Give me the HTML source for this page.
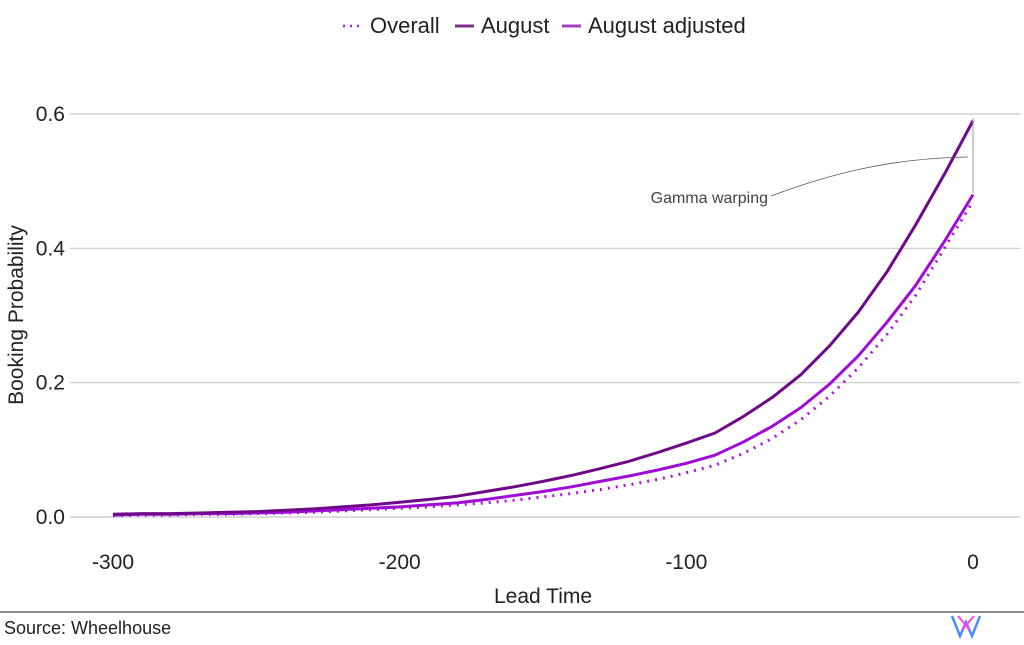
<!DOCTYPE html>
<html><head><meta charset="utf-8"><style>
body{margin:0;background:#fff;font-family:"Liberation Sans",sans-serif}
</style></head><body>
<svg width="1024" height="640" viewBox="0 0 1024 640">
<g id="grid"></g>
<g id="lines"></g>
<g font-size="22" fill="#222">
 <line x1="343" y1="26" x2="362" y2="26" stroke="#a020f0" stroke-width="2.5" stroke-dasharray="2,5"/>
 <text x="370" y="33">Overall</text>
 <line x1="455" y1="26" x2="474" y2="26" stroke="#7a2f86" stroke-width="3"/>
 <text x="481" y="33">August</text>
 <line x1="562" y1="26" x2="581" y2="26" stroke="#a040c0" stroke-width="3"/>
 <text x="588" y="33">August adjusted</text>
</g>
<text x="543" y="603" font-size="21" text-anchor="middle" fill="#222">Lead Time</text>
<text transform="translate(23,315) rotate(-90)" font-size="21" text-anchor="middle" fill="#222">Booking Probability</text>
<path d="M973 118 V193" stroke="#999" stroke-width="1" fill="none"/>
<path d="M771 196 C840 170 900 158 968 157" stroke="#555" stroke-width="0.8" fill="none"/>
<text x="768" y="203" font-size="16" text-anchor="end" fill="#444">Gamma warping</text>
<line x1="0" y1="612" x2="1024" y2="612" stroke="#444" stroke-width="1.2"/>
<text x="4" y="634" font-size="18" fill="#222">Source: Wheelhouse</text>
<g fill="none" stroke-width="2.5">
 <path d="M952 616 L960 636 L966 622 L972 636 L980 616" stroke="#4a8cff"/>
 <path d="M958 616 L970 630 M974 616 L962 630" stroke="#ff40e0" stroke-width="2"/>
</g>
</svg>
<script>
const xs=[-300,-290,-280,-270,-260,-250,-240,-230,-220,-210,-200,-190,-180,-170,-160,-150,-140,-130,-120,-110,-100,-90,-80,-70,-60,-50,-40,-30,-20,-10,0];
const august=[.004,.005,.005,.006,.007,.008,.010,.012,.015,.018,.022,.026,.031,.038,.045,.053,.062,.072,.083,.096,.110,.125,.150,.178,.212,.255,.305,.365,.435,.51,.59];
const adjusted=[.003,.004,.004,.005,.005,.006,.007,.009,.011,.013,.015,.018,.021,.026,.032,.038,.045,.053,.061,.070,.080,.092,.112,.135,.163,.198,.24,.29,.345,.41,.48];
const overall=[.002,.003,.003,.004,.004,.005,.006,.007,.009,.011,.013,.015,.018,.021,.025,.030,.035,.041,.048,.056,.066,.077,.095,.117,.145,.180,.222,.272,.33,.40,.47];
const yTicks=[0,0.2,0.4,0.6];
const yTickLabels=["0.0","0.2","0.4","0.6"];
const xTicks=[-300,-200,-100,0];
const xTickLabels=["-300","-200","-100","0"];
const NS="http://www.w3.org/2000/svg";
const X=v=>973+v*(860/300);
const Y=v=>517-v*(403/0.6);
const grid=document.getElementById('grid');
yTicks.forEach((t,i)=>{
 const l=document.createElementNS(NS,'line');
 l.setAttribute('x1',70);l.setAttribute('x2',1020);l.setAttribute('y1',Y(t));l.setAttribute('y2',Y(t));
 l.setAttribute('stroke','#c8c8c8');l.setAttribute('stroke-width','1.2');
 
 
 grid.appendChild(l);
 const tx=document.createElementNS(NS,'text');
 tx.setAttribute('x',65);tx.setAttribute('y',Y(t)+7);tx.setAttribute('text-anchor','end');
 tx.setAttribute('font-size','21');tx.setAttribute('fill','#222');tx.textContent=yTickLabels[i];
 
 
 grid.appendChild(tx);
});
xTicks.forEach((t,i)=>{
 const tx=document.createElementNS(NS,'text');
 tx.setAttribute('x',X(t));tx.setAttribute('y',569);tx.setAttribute('text-anchor','middle');
 tx.setAttribute('font-size','21');tx.setAttribute('fill','#222');tx.textContent=xTickLabels[i];
 
 
 grid.appendChild(tx);
});
const lines=document.getElementById('lines');
function draw(vals,color,dash,name){
 const p=document.createElementNS(NS,'path');
 p.setAttribute('d',xs.map((x,i)=>(i?'L':'M')+X(x).toFixed(1)+' '+Y(vals[i]).toFixed(1)).join(' '));
 p.setAttribute('fill','none');p.setAttribute('stroke',color);p.setAttribute('stroke-width','3');
 p.setAttribute('stroke-linejoin','round');
 if(dash)p.setAttribute('stroke-dasharray',dash);
 
 
 lines.appendChild(p);
}
draw(overall,'#b010e0','2,6','line-overall');
draw(adjusted,'#a00ad8',null,'line-august-adjusted');
draw(august,'#6e0a88',null,'line-august');
</script>
</body></html>
